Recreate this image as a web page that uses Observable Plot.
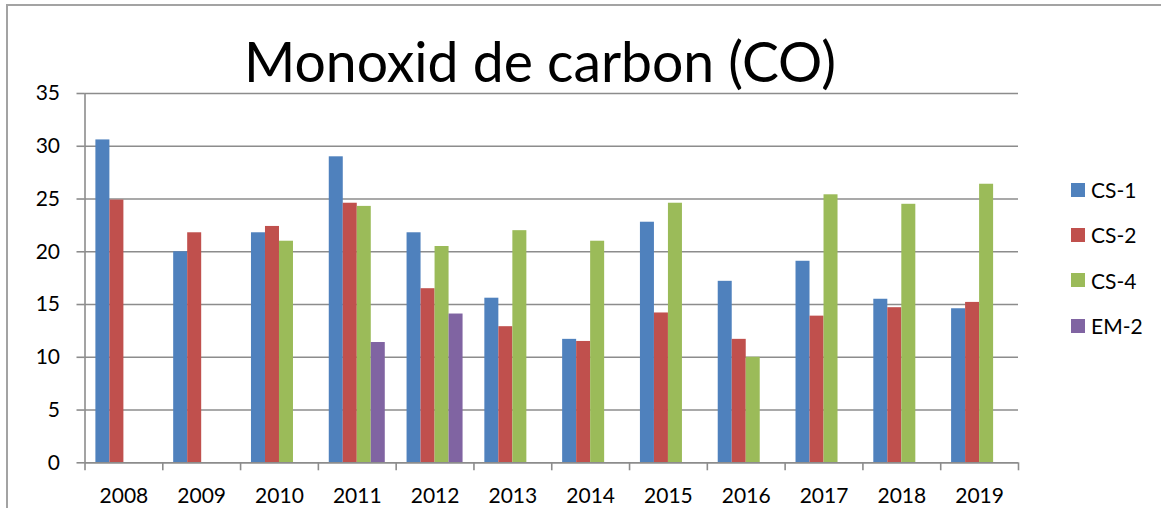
<!DOCTYPE html>
<html>
<head>
<meta charset="utf-8">
<script src="https://cdn.jsdelivr.net/npm/d3@7"></script>
<script src="https://cdn.jsdelivr.net/npm/@observablehq/plot@0.6"></script>
<style>
  html, body { margin: 0; padding: 0; background: #fff; }
  #wrap { position: relative; width: 1161px; height: 508px; overflow: hidden; background: #fff; font-family: Lato, "Open Sans", sans-serif; }
  #frame { position: absolute; left: 6px; top: 4px; width: 2000px; height: 2000px; border-left: 2px solid #a3a3a3; border-top: 2px solid #a3a3a3; }
  #chart { position: absolute; left: 0; top: 0; }
  #title { position: absolute; left: 0; top: 33px; width: 1080px; text-align: center; font-size: 55.3px; line-height: 1; color: #000; white-space: nowrap; }
  #legend { position: absolute; left: 1071px; top: 167px; }
  .item { display: flex; align-items: center; height: 45.3px; font-size: 21px; line-height: 21px; color: #000; }
  .sw { width: 14px; height: 14px; margin-right: 6px; }
</style>
</head>
<body>
<div id="wrap">
  <div id="frame"></div>
  <div id="chart"></div>
  <div id="title">Monoxid de carbon (CO)</div>
  <div id="legend"></div>
</div>
<script>
const years = ["2008","2009","2010","2011","2012","2013","2014","2015","2016","2017","2018","2019"];
const series = ["CS-1","CS-2","CS-4","EM-2"];
const colors = ["#4F81BD","#C0504D","#9BBB59","#8064A2"];
const cs1 = [30.6, 20.0, 21.8, 29.0, 21.8, 15.6, 11.7, 22.8, 17.2, 19.1, 15.5, 14.6];
const cs2 = [24.9, 21.8, 22.4, 24.6, 16.5, 12.9, 11.5, 14.2, 11.7, 13.9, 14.7, 15.2];
const cs4 = [null, null, 21.0, 24.3, 20.5, 22.0, 21.0, 24.6, 10.0, 25.4, 24.5, 26.4];
const em2 = [null, null, null, 11.4, 14.1, null, null, null, null, null, null, null];
const yTicks = [0, 5, 10, 15, 20, 25, 30, 35];

const values = [cs1, cs2, cs4, em2];
const data = [];
series.forEach((s, j) => values[j].forEach((v, i) => {
  if (v != null) data.push({year: years[i], yi: i, series: s, si: j, value: v});
}));

const pad = 0.14, bw = 0.18;
const grid = "#8c8c8c";

const chart = Plot.plot({
  width: 1161,
  height: 508,
  marginTop: 93,
  marginBottom: 45.7,
  marginLeft: 84.5,
  marginRight: 143,
  style: {fontFamily: "Lato, 'Open Sans', sans-serif", fontSize: "21px", background: "transparent", color: "#000"},
  x: {domain: [0, years.length], axis: null},
  y: {domain: [0, 35], axis: null, label: null},
  color: {domain: series, range: colors},
  marks: [
    Plot.ruleY(yTicks, {stroke: grid, strokeWidth: 1.6}),
    Plot.rectY(data, {
      x1: d => d.yi + pad + d.si * bw,
      x2: d => d.yi + pad + (d.si + 1) * bw,
      y: "value",
      fill: "series"
    }),
    Plot.ruleX([0], {stroke: grid, strokeWidth: 1.6}),
    Plot.ruleY([0], {stroke: grid, strokeWidth: 1.6}),
    Plot.axisY({ticks: yTicks, tickSize: 8, tickPadding: 17, stroke: grid, strokeWidth: 1.6, fill: "#000", label: null}),
    Plot.axisX({ticks: d3.range(0, years.length + 1), tickFormat: () => "", tickSize: 8, stroke: grid, strokeWidth: 1.6, label: null}),
    Plot.axisX({ticks: years.map((y, i) => i + 0.5), tickFormat: d => years[Math.floor(d)], tickSize: 0, tickPadding: 25, fill: "#000", label: null})
  ]
});
document.getElementById("chart").appendChild(chart);

const legend = document.getElementById("legend");
series.forEach((s, j) => {
  const item = document.createElement("div");
  item.className = "item";
  const sw = document.createElement("span");
  sw.className = "sw";
  sw.style.background = colors[j];
  const lab = document.createElement("span");
  lab.textContent = s;
  item.appendChild(sw);
  item.appendChild(lab);
  legend.appendChild(item);
});
</script>
</body>
</html>
